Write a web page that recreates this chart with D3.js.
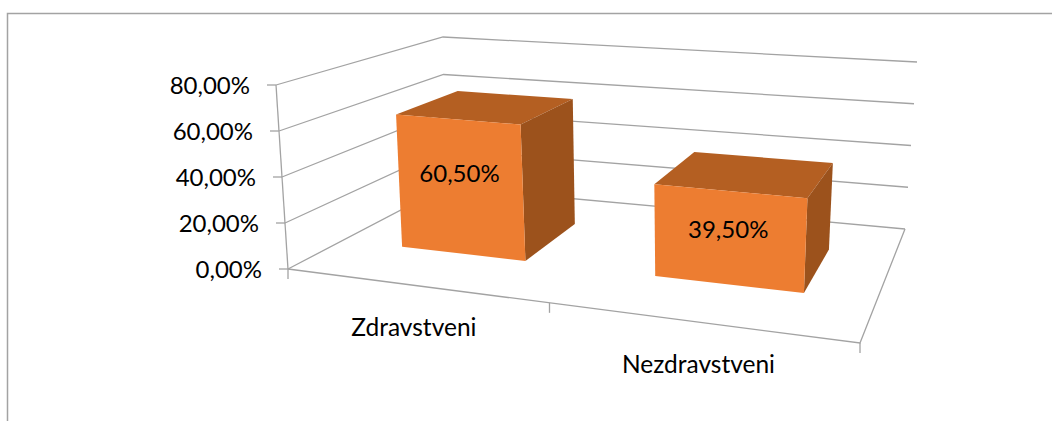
<!DOCTYPE html>
<html><head><meta charset="utf-8"><style>html,body{margin:0;padding:0;background:#fff}svg{display:block}text{font-family:Lato,sans-serif;fill:#000}</style>
<script src="https://cdn.jsdelivr.net/npm/d3@7"></script></head><body><div id="c"></div>
<script>
const categories = ["Zdravstveni", "Nezdravstveni"];
const values = [60.5, 39.5];
const valueLabels = ["60,50%", "39,50%"];
const yTicks = [0, 20, 40, 60, 80];
const yTickLabels = ["0,00%", "20,00%", "40,00%", "60,00%", "80,00%"];

const W = 1052, H = 421;
const svg = d3.select("#c").append("svg").attr("width", W).attr("height", H);

function homography(p0, p1, p2, p3) {
  const dx1 = p1[0]-p2[0], dx2 = p3[0]-p2[0], sx = p0[0]-p1[0]+p2[0]-p3[0];
  const dy1 = p1[1]-p2[1], dy2 = p3[1]-p2[1], sy = p0[1]-p1[1]+p2[1]-p3[1];
  const det = dx1*dy2-dx2*dy1;
  const g = (sx*dy2-dx2*sy)/det, h = (dx1*sy-sx*dy1)/det;
  const a = p1[0]-p0[0]+g*p1[0], b = p3[0]-p0[0]+h*p3[0], c = p0[0];
  const d = p1[1]-p0[1]+g*p1[1], e = p3[1]-p0[1]+h*p3[1], f = p0[1];
  return (u, v) => { const w = g*u+h*v+1; return [(a*u+b*v+c)/w, (d*u+e*v+f)/w]; };
}
const floor = homography([288,269],[860,343],[905,229],[445,187]);
const ceil  = homography([276,85],[873,133],[917,62],[443,37]);

const yScale = d3.scaleLinear().domain([0, 80]).range([0, 1]);
const xBand = d3.scaleBand().domain(categories).range([0.007, 1.007]).paddingInner(0.49).paddingOuter(0.245);
const depth = d3.scaleLinear().domain([0, 1]).range([0.303, 0.708]);

function P(u, d, val) {
  const a = floor(u, d), b = ceil(u, d), t = yScale(val);
  return [a[0]+(b[0]-a[0])*t, a[1]+(b[1]-a[1])*t];
}
const line = d3.line();
const grey = "#a3a3a3";

svg.append("path").attr("d", "M7.5,421V13.5H1052").attr("fill","none").attr("stroke",grey).attr("stroke-width",1.5);

const g = svg.append("g").attr("fill","none").attr("stroke",grey).attr("stroke-width",1.3);
yTicks.forEach(v => g.append("path").attr("d", line([P(0,0,v),P(0,1,v),P(1,1,v)])));
g.append("path").attr("d", line([P(1,1,0),P(1,0,0),P(0,0,0)]));
g.append("path").attr("d", line([P(0,0,80),P(0,0,0)]));
yTicks.forEach(v => { const p = P(0,0,v); g.append("path").attr("d", line([[p[0]-9,p[1]],p])); });
[0, 0.508, 1].forEach(u => { const p = P(u,0,0); g.append("path").attr("d", line([p,[p[0],p[1]+10]])); });
yTicks.forEach((v,i) => { const p = P(0,0,v);
  svg.append("text").attr("x", p[0]-26).attr("y", p[1]+9).attr("text-anchor","end").attr("font-size",24).text(yTickLabels[i]); });

categories.forEach((c,i) => {
  const u0 = xBand(c), u1 = u0+xBand.bandwidth(), d0 = depth(0), d1 = depth(1), v = values[i];
  const b = svg.append("g");
  b.append("path").attr("fill","#b45f22").attr("d", line([P(u0,d0,v),P(u1,d0,v),P(u1,d1,v),P(u0,d1,v)])+"Z");
  b.append("path").attr("fill","#9c521c").attr("d", line([P(u1,d0,0),P(u1,d1,0),P(u1,d1,v),P(u1,d0,v)])+"Z");
  b.append("path").attr("fill","#ed7d31").attr("d", line([P(u0,d0,0),P(u1,d0,0),P(u1,d0,v),P(u0,d0,v)])+"Z");
  const c0 = P((u0+u1)/2, d0, v/2);
  svg.append("text").attr("x", c0[0]).attr("y", c0[1]+(i?0:-5)).attr("text-anchor","middle").attr("font-size",24).text(valueLabels[i]);
  const l = P((u0+u1)/2, 0, 0);
  svg.append("text").attr("x", l[0]).attr("y", l[1]+51).attr("text-anchor","middle").attr("font-size",24.5).text(c);
});
</script></body></html>
